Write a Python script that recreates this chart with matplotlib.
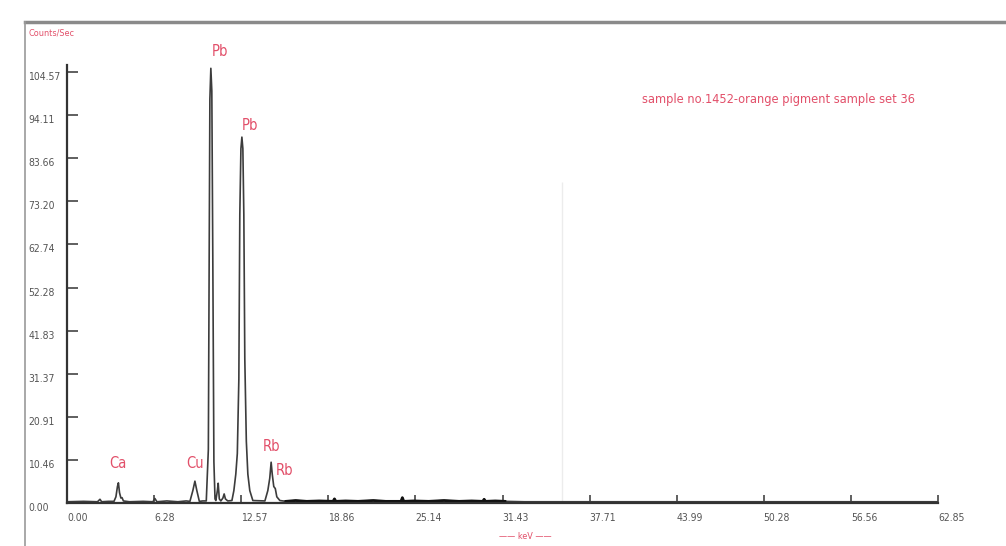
import numpy as np
import matplotlib.pyplot as plt
from matplotlib.lines import Line2D

plt.rcParams['font.family'] = ['DejaVu Sans']
plt.rcParams['font.stretch'] = 'condensed'

RED = '#e2506a'
TRACE = '#3c3c3c'

# spectrum trace, segment by segment (keV, counts/sec)
base_e = [0.0, 1.2, 2.2, 2.38, 2.5, 3.0, 4.5, 5.5, 6.2, 6.34, 6.49, 7.2, 8.0, 8.6]
base_c = [0.3, 0.4, 0.3, 0.9, 0.3, 0.4, 0.3, 0.4, 0.3, 1.1, 0.3, 0.5, 0.3, 0.5]

ca_e = [3.39, 3.53, 3.64, 3.71, 3.79, 3.89, 3.97, 4.07]
ca_c = [0.4, 1.5, 4.0, 4.9, 2.5, 1.2, 1.3, 0.5]

cu_e = [8.87, 9.08, 9.23, 9.37, 9.55, 9.8]
cu_c = [0.4, 3.0, 5.3, 3.0, 0.4, 0.5]

pb_la_e = [10.05, 10.2, 10.26, 10.31, 10.38, 10.45, 10.52, 10.6, 10.68]
pb_la_c = [0.5, 13.0, 60.0, 98.0, 105.5, 100.0, 60.0, 10.0, 1.0]

mid_e = [10.74, 10.85, 10.91, 10.99, 11.1, 11.25, 11.34, 11.43, 11.6]
mid_c = [0.6, 3.0, 4.8, 1.0, 0.5, 1.2, 2.2, 1.0, 0.5]

pb_lb_e = [11.9, 12.04, 12.18, 12.29, 12.4, 12.47, 12.55, 12.62, 12.69,
           12.76, 12.83, 12.94, 13.05, 13.19, 13.41]
pb_lb_c = [0.6, 3.0, 7.0, 12.0, 30.0, 70.0, 86.0, 88.8, 86.0,
           70.0, 35.0, 15.0, 7.0, 3.0, 0.6]

rb_e = [14.28, 14.49, 14.63, 14.73, 14.81, 14.92, 15.03, 15.14, 15.36]
rb_c = [0.5, 3.0, 6.0, 9.9, 7.0, 4.0, 3.5, 1.5, 0.6]

tail_e = [15.8, 16.5, 17.3, 18.2, 19.2, 19.3, 19.4, 20.1, 21.0, 22.1, 23.0,
          24.1, 24.2, 24.3, 25.0, 26.1, 27.2, 28.3, 29.2, 30.0, 30.1, 30.2,
          30.9, 31.6, 33.0, 40.0, 50.0, 62.85]
tail_c = [0.4, 0.6, 0.4, 0.5, 0.4, 1.0, 0.4, 0.5, 0.4, 0.6, 0.4,
          0.4, 1.3, 0.4, 0.5, 0.4, 0.6, 0.4, 0.5, 0.4, 0.9, 0.4,
          0.5, 0.4, 0.3, 0.3, 0.3, 0.3]

x_ticks = [0.00, 6.28, 12.57, 18.86, 25.14, 31.43, 37.71, 43.99, 50.28, 56.56, 62.85]
y_ticks = [0.00, 10.46, 20.91, 31.37, 41.83, 52.28, 62.74, 73.20, 83.66, 94.11, 104.57]

# peak labels: (text, keV, counts)
peak_labels = [('Ca', 3.68, 9.7), ('Cu', 9.23, 9.7), ('Pb', 11.03, 109.5),
               ('Pb', 13.19, 91.7), ('Rb', 14.78, 13.6), ('Rb', 15.72, 8.0)]

energy = np.concatenate([base_e, ca_e, cu_e, pb_la_e, mid_e, pb_lb_e, rb_e, tail_e])
counts = np.concatenate([base_c, ca_c, cu_c, pb_la_c, mid_c, pb_lb_c, rb_c, tail_c])
order = np.argsort(energy)
energy, counts = energy[order], counts[order]

fig = plt.figure(figsize=(10.06, 5.46), dpi=100)
ax = fig.add_axes([67 / 1006, 43 / 546, 871 / 1006, 438 / 546])

ax.vlines(35.7, 0, 78, color='#ececec', lw=1)
ax.plot(energy, counts, color=TRACE, lw=1.2)
dense = (energy > 15.5) & (energy < 32)
ax.plot(energy[dense], counts[dense], color='#111111', lw=2.0)

ax.set_xlim(0, 62.85)
ax.set_ylim(0, 106.3)
for s in ['top', 'right']:
    ax.spines[s].set_visible(False)
for s in ['left', 'bottom']:
    ax.spines[s].set_linewidth(1.6)
    ax.spines[s].set_color('#333333')

ax.set_xticks(x_ticks)
ax.set_xticklabels([f'{v:.2f}' for v in x_ticks])
ax.set_yticks(y_ticks)
ax.set_yticklabels([f'{v:.2f}' for v in y_ticks])
ax.tick_params(axis='x', direction='in', length=6, width=1.2, pad=7,
               labelsize=7.5, labelcolor='#555555', color='#444444')
ax.tick_params(axis='y', direction='in', length=8, width=1.2, pad=28,
               labelsize=7.5, labelcolor='#555555', color='#444444')
for lab in ax.get_xticklabels():
    lab.set_ha('left')
for lab in ax.get_yticklabels():
    lab.set_ha('left')
    lab.set_va('top')

for txt, e, c in peak_labels:
    ax.text(e, c, txt, color=RED, fontsize=10.5, ha='center', va='center', clip_on=False)

fig.text(0.774, 0.817, 'sample no.1452-orange pigment sample set 36',
         color=RED, fontsize=9.2, ha='center', va='center')
fig.text(0.028, 0.94, 'Counts/Sec', color=RED, fontsize=6.5, ha='left', va='center')
fig.text(0.522, 0.017, '\u2014\u2014 keV \u2014\u2014', color=RED, fontsize=6.5,
         ha='center', va='center')

# outer frame of the screenshot
fig.add_artist(Line2D([25 / 1006, 1.0], [1 - 22 / 546, 1 - 22 / 546],
                      color='#8a8a8a', lw=2.5))
fig.add_artist(Line2D([25 / 1006, 25 / 1006], [0.0, 1 - 22 / 546],
                      color='#9a9a9a', lw=1.2))

fig.savefig('out.png', dpi=100)
